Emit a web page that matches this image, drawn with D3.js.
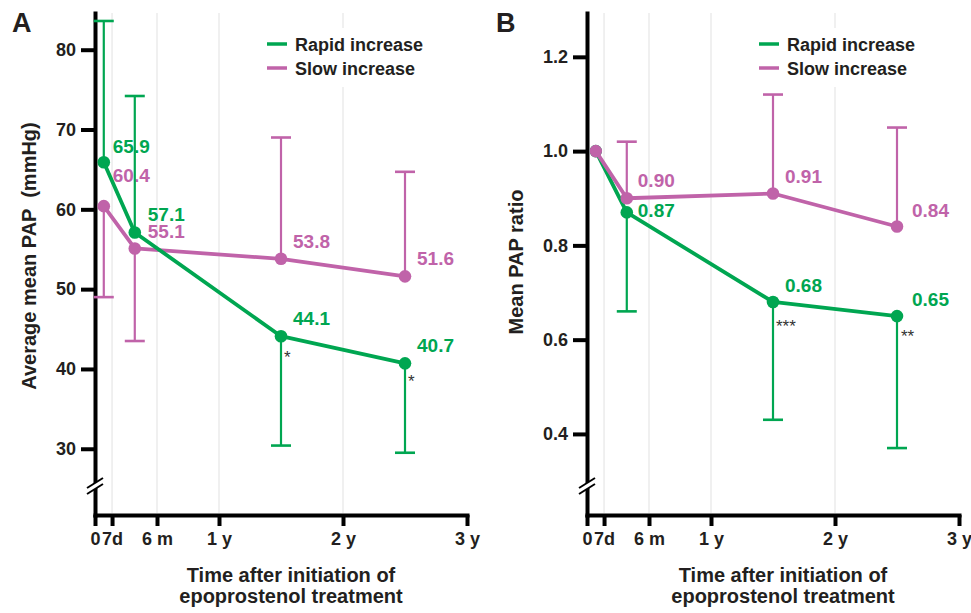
<!DOCTYPE html>
<html>
<head>
<meta charset="utf-8">
<script src="https://cdn.jsdelivr.net/npm/d3@7"></script>
<style>
  body { margin: 0; background: #fff; }
  svg { display: block; font-family: 'Liberation Sans', Arial, sans-serif; }
  .ytitle { white-space: pre; }
</style>
</head>
<body>
<div id="chart"></div>
<script>
// time points in months after start of treatment
const months = [0.85, 3.85, 18, 30]
const xTickVals = [0, 1.65, 6, 12, 24, 36]
const xTickLabels = ['0', '7d', '6 m', '1 y', '2 y', '3 y']
const gridVals = [1.65, 6, 12, 24]

const seriesNames = ['Rapid increase', 'Slow increase']

// panel A: average mean PAP (mmHg)
const papRapid = [65.9, 57.1, 44.1, 40.7]
const papRapidBar = [83.6, 74.2, 30.4, 29.5]
const papSlow = [60.4, 55.1, 53.8, 51.6]
const papSlowBar = [49.0, 43.5, 69.0, 64.7]
const papTicks = [30, 40, 50, 60, 70, 80]
const papStars = ['', '', '*', '*']

// panel B: mean PAP ratio
const ratioRapid = [1.0, 0.87, 0.68, 0.65]
const ratioRapidBar = [null, 0.66, 0.43, 0.37]
const ratioSlow = [1.0, 0.90, 0.91, 0.84]
const ratioSlowBar = [null, 1.02, 1.12, 1.05]
const ratioTicks = [0.4, 0.6, 0.8, 1.0, 1.2]
const ratioStars = ['', '', '***', '**']

const green = '#00a651'
const pink = '#c063a9'
const ink = '#231f20'

let svg = d3
  .select('#chart')
  .append('svg')
  .attr('width', 971)
  .attr('height', 613)

function drawPanel(p) {
  let g = svg.append('g').attr('transform', `translate(${p.left}, 0)`)

  let x = d3.scaleLinear().domain([0, 36]).range([0, 372])
  let y = d3.scaleLinear().domain(p.yDomain).range([515, 13])

  // grid
  g.selectAll('.grid')
    .data(gridVals)
    .enter()
    .append('line')
    .attr('x1', d => x(d))
    .attr('x2', d => x(d))
    .attr('y1', 13)
    .attr('y2', 513)
    .attr('stroke', '#e6e6e6')
    .attr('stroke-width', 1.2)

  // legend box hides the grid behind it
  g.append('rect')
    .attr('x', 160)
    .attr('y', 28)
    .attr('width', 186)
    .attr('height', 59)
    .attr('fill', '#fff')

  let legend = g
    .selectAll('.legend')
    .data(seriesNames)
    .enter()
    .append('g')
    .attr('transform', (d, i) => `translate(172, ${44 + i * 24})`)
  legend
    .append('line')
    .attr('x1', 0)
    .attr('x2', 20)
    .attr('stroke', (d, i) => (i === 0 ? green : pink))
    .attr('stroke-width', 3.5)
  legend
    .append('text')
    .attr('x', 28)
    .attr('dy', '0.38em')
    .attr('font-size', 18)
    .attr('font-weight', 'bold')
    .attr('fill', ink)
    .text(d => d)

  // axes
  let yAxis = g
    .append('g')
    .call(
      d3.axisLeft(y)
        .tickValues(p.yTicks)
        .tickFormat(p.tickFormat)
        .tickSize(14)
        .tickSizeOuter(0)
        .tickPadding(5)
    )
  let xAxis = g
    .append('g')
    .attr('transform', 'translate(0, 515)')
    .call(
      d3.axisBottom(x)
        .tickValues(xTickVals)
        .tickFormat((d, i) => xTickLabels[i])
        .tickSize(11)
        .tickSizeOuter(0)
        .tickPadding(6)
    )
  ;[yAxis, xAxis].forEach(a => {
    a.select('.domain').attr('stroke', '#000').attr('stroke-width', 4).attr('stroke-linecap', 'square')
    a.selectAll('.tick line').attr('stroke', '#000').attr('stroke-width', 4)
    a.selectAll('.tick text')
      .attr('font-size', 18)
      .attr('font-weight', 'bold')
      .attr('font-family', "'Liberation Sans', Arial, sans-serif")
      .attr('fill', ink)
  })

  // axis break
  g.append('polygon')
    .attr('points', '-8,488 8,478 8,484 -8,494')
    .attr('fill', '#fff')
  g.selectAll('.brk')
    .data([0, 6])
    .enter()
    .append('line')
    .attr('x1', -8)
    .attr('x2', 8)
    .attr('y1', d => 488 + d)
    .attr('y2', d => 478 + d)
    .attr('stroke', '#000')
    .attr('stroke-width', 2)

  // titles
  g.append('text')
    .attr('x', p.letterX)
    .attr('y', 32)
    .attr('font-size', 27)
    .attr('font-weight', 'bold')
    .attr('fill', ink)
    .text(p.letter)

  g.append('text')
    .attr('class', 'ytitle')
    .attr('transform', `translate(${p.yTitleX}, ${p.yTitleY}) rotate(-90)`)
    .attr('text-anchor', 'middle')
    .attr('font-size', 20)
    .attr('font-weight', 'bold')
    .attr('fill', ink)
    .text(p.yTitle)

  g.selectAll('.xtitle')
    .data(['Time after initiation of', 'epoprostenol treatment'])
    .enter()
    .append('text')
    .attr('x', 196)
    .attr('y', (d, i) => 582 + i * 21)
    .attr('text-anchor', 'middle')
    .attr('font-size', 20)
    .attr('font-weight', 'bold')
    .attr('fill', ink)
    .text(d => d)

  // series
  let line = d3.line().x((d, i) => x(months[i])).y(d => y(d))

  p.series.forEach(s => {
    let sg = g.append('g')

    s.bars.forEach((b, i) => {
      if (b === null) return
      // one-sided error bar: whisker plus cap
      sg.append('line')
        .attr('x1', x(months[i]))
        .attr('x2', x(months[i]))
        .attr('y1', y(s.values[i]))
        .attr('y2', y(b))
        .attr('stroke', s.color)
        .attr('stroke-width', 2.2)
      sg.append('line')
        .attr('x1', x(months[i]) - 10)
        .attr('x2', x(months[i]) + 10)
        .attr('y1', y(b))
        .attr('y2', y(b))
        .attr('stroke', s.color)
        .attr('stroke-width', 2.6)
    })

    sg.append('path')
      .datum(s.values)
      .attr('d', line)
      .attr('fill', 'none')
      .attr('stroke', s.color)
      .attr('stroke-width', 3.8)
      .attr('stroke-linejoin', 'round')

    sg.selectAll('circle')
      .data(s.values)
      .enter()
      .append('circle')
      .attr('cx', (d, i) => x(months[i]))
      .attr('cy', d => y(d))
      .attr('r', 6.3)
      .attr('fill', s.color)

    s.values.forEach((v, i) => {
      let off = s.labelOff[i]
      if (!off) return
      sg.append('text')
        .attr('x', x(months[i]) + off[0])
        .attr('y', y(v) + off[1])
        .attr('font-size', 19)
        .attr('font-weight', 'bold')
        .attr('fill', s.color)
        .text(p.labelFormat(v))
    })

    if (s.stars) {
      s.stars.forEach((st, i) => {
        if (!st) return
        sg.append('text')
          .attr('x', x(months[i]) + p.starOff[i][0])
          .attr('y', y(s.values[i]) + p.starOff[i][1])
          .attr('font-size', 17)
          .attr('fill', '#333')
          .text(st)
      })
    }
  })
}

drawPanel({
  left: 95,
  letter: 'A',
  letterX: -83,
  yDomain: [21.7, 84.6],
  yTicks: papTicks,
  tickFormat: d3.format('d'),
  labelFormat: d3.format('.1f'),
  yTitle: 'Average mean PAP  (mmHg)',
  yTitleX: -59,
  yTitleY: 256,
  starOff: [null, null, [3, 27], [3, 24]],
  series: [
    { values: papSlow, bars: papSlowBar, color: pink,
      labelOff: [[9, -24], [13, -10], [12, -11], [12, -11]] },
    { values: papRapid, bars: papRapidBar, color: green, stars: papStars,
      labelOff: [[9, -9], [13, -11], [12, -11], [12, -11]] }
  ]
})

drawPanel({
  left: 587,
  letter: 'B',
  letterX: -91,
  yDomain: [0.228, 1.293],
  yTicks: ratioTicks,
  tickFormat: d3.format('.1f'),
  labelFormat: d3.format('.2f'),
  yTitle: 'Mean PAP ratio',
  yTitleX: -64,
  yTitleY: 262,
  starOff: [null, null, [3, 30], [4, 26]],
  series: [
    { values: ratioRapid, bars: ratioRapidBar, color: green, stars: ratioStars,
      labelOff: [null, [11, 5], [12, -10], [15, -10]] },
    { values: ratioSlow, bars: ratioSlowBar, color: pink,
      labelOff: [null, [11, -11], [12, -11], [15, -10]] }
  ]
})
</script>
</body>
</html>
